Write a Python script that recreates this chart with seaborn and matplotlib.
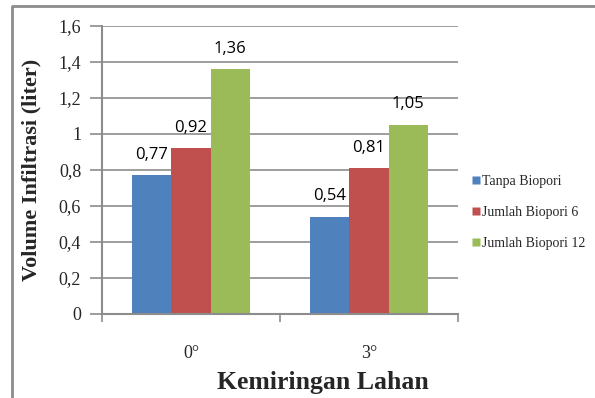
import matplotlib
matplotlib.use("Agg")
import matplotlib.pyplot as plt
import seaborn as sns
import pandas as pd
from matplotlib.lines import Line2D

categories = ["0°", "3°"]
series = ["Tanpa Biopori", "Jumlah Biopori 6", "Jumlah Biopori 12"]
tanpa = [0.77, 0.54]
biopori6 = [0.92, 0.81]
biopori12 = [1.36, 1.05]
yticks = [0, 0.2, 0.4, 0.6, 0.8, 1.0, 1.2, 1.4, 1.6]
ytick_labels = ["0", "0,2", "0,4", "0,6", "0,8", "1", "1,2", "1,4", "1,6"]
colors = ["#4F81BD", "#C0504D", "#9BBB59"]

rows = []
for s, vals in zip(series, [tanpa, biopori6, biopori12]):
    for c, v in zip(categories, vals):
        rows.append({"Kemiringan": c, "Seri": s, "Nilai": v})
df = pd.DataFrame(rows)

sns.set_style("white")
plt.rcParams["font.family"] = ["Liberation Serif", "DejaVu Serif"]

fig = plt.figure(figsize=(5.95, 3.98), dpi=100)
ax = fig.add_axes([102/595, 1 - 314/398, (458-102)/595, (314-26)/398])

sns.barplot(data=df, x="Kemiringan", y="Nilai", hue="Seri", order=categories,
            hue_order=series, palette=colors, width=0.66, saturation=1,
            ax=ax, legend=False, edgecolor="none")

for container in ax.containers:
    labels = [f"{v:.2f}".replace(".", ",") for v in container.datavalues]
    ax.bar_label(container, labels=labels, padding=9, fontsize=12,
                 family="Open Sans", color="#000000")

ax.set_ylim(0, 1.6)
ax.set_xlim(-0.5, 1.5)
ax.set_yticks(yticks)
ax.set_yticklabels(ytick_labels, fontsize=13)
ax.yaxis.grid(True, color="#8C8C8C", linewidth=1.2)
ax.set_axisbelow(True)
ax.tick_params(axis="y", which="major", direction="out", length=9, width=1.2,
               color="#8C8C8C", pad=6, left=True)
ax.set_xticks([0, 1])
ax.set_xticklabels(categories, fontsize=13)
ax.tick_params(axis="x", which="major", length=0, pad=22)
ax.set_xticks([-0.5, 0.5, 1.5], minor=True)
ax.tick_params(axis="x", which="minor", direction="out", length=6, width=1.2,
               color="#8C8C8C", bottom=True)

for side in ["top", "right"]:
    ax.spines[side].set_visible(False)
for side in ["left", "bottom"]:
    ax.spines[side].set_color("#8C8C8C")
    ax.spines[side].set_linewidth(1.5)

ax.set_xlabel("Kemiringan Lahan", fontsize=18.5, fontweight="bold", va="center")
ax.xaxis.set_label_coords((323 - 102) / 356, (314 - 382) / 288)
ax.set_ylabel("Volume Infiltrasi (liter)", fontsize=16, fontweight="bold", va="center")
ax.yaxis.set_label_coords((31 - 102) / 356, 0.5 - (170 - 170) / 288)

handles = [Line2D([0], [0], marker="s", color="none", markerfacecolor=c,
                  markeredgecolor="none", markersize=6) for c in colors]
leg = fig.legend(handles, series, loc="upper left",
                 bbox_to_anchor=(466/595, 1 - 169/398), frameon=False,
                 fontsize=10, handlelength=0.6, handletextpad=0.15,
                 labelspacing=1.3, borderaxespad=0)

border = Line2D([12/595, 12/595, 1.0], [0.0, 1 - 5.5/398, 1 - 5.5/398],
                transform=fig.transFigure, color="#8C8C8C", linewidth=2)
fig.add_artist(border)

fig.savefig("out.png", dpi=100)
